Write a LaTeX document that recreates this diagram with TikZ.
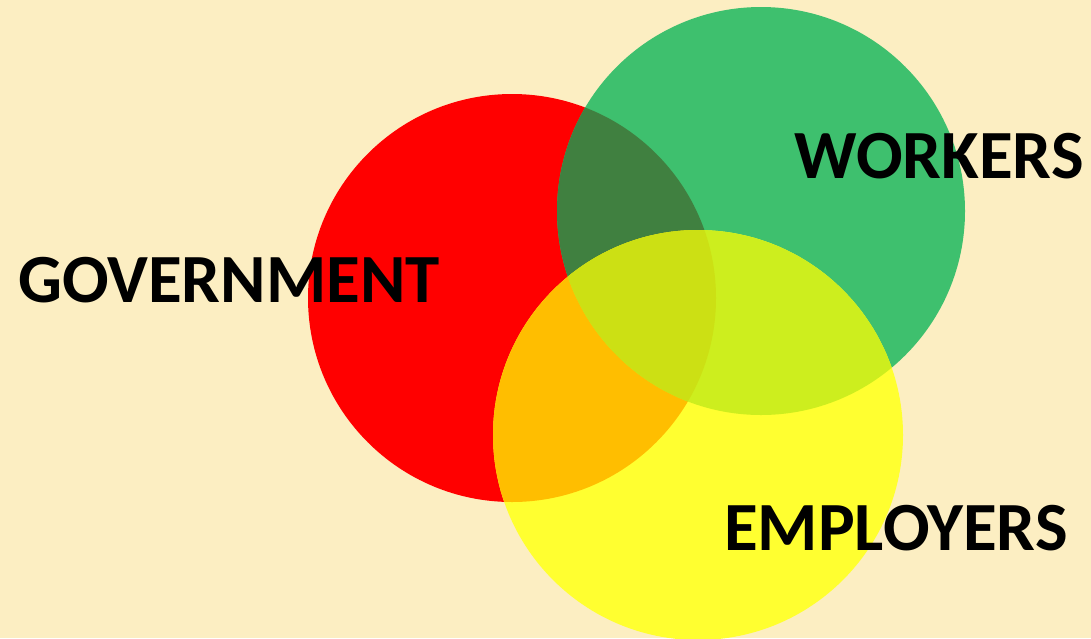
\documentclass[tikz,border=0pt]{standalone}
\usepackage{fontspec}
\setmainfont{Carlito}

\definecolor{bgcol}{RGB}{252,238,194}
\definecolor{govcol}{RGB}{255,0,0}
\definecolor{wrkcol}{RGB}{62,192,110}
\definecolor{empcol}{RGB}{255,255,48}
\definecolor{govwrkcol}{RGB}{64,128,64}
\definecolor{govempcol}{RGB}{255,190,0}
\definecolor{wrkempcol}{RGB}{205,238,30}
\definecolor{allcol}{RGB}{204,224,20}

\newcommand{\govcircle}{(512,298) circle (204)}
\newcommand{\wrkcircle}{(761,211) circle (204)}
\newcommand{\empcircle}{(698,435) circle (205)}

\tikzset{
  partner/.style={inner sep=0pt, text=black,
    font=\fontsize{69}{69}\selectfont\bfseries}
}

\begin{document}
\begin{tikzpicture}[x=1pt,y=-1pt]
% the background
\fill[bgcol] (0,0) rectangle (1091,638);
\useasboundingbox (0,0) rectangle (1091,638);

% the circles
\fill[govcol] \govcircle;
\fill[wrkcol] \wrkcircle;
\fill[empcol] \empcircle;

% the overlaps
\begin{scope}
  \clip \govcircle;
  \fill[govwrkcol] \wrkcircle;
  \fill[govempcol] \empcircle;
\end{scope}
\begin{scope}
  \clip \wrkcircle;
  \fill[wrkempcol] \empcircle;
\end{scope}
\begin{scope}
  \clip \govcircle;
  \clip \wrkcircle;
  \fill[allcol] \empcircle;
\end{scope}

% the labels
\node[partner] (government) at (229,280) {GOVERNMENT};
\node[partner] (workers) at (939,156) {WORKERS};
\node[partner] (employers) at (896,528) {EMPLOYERS};
\end{tikzpicture}
\end{document}
